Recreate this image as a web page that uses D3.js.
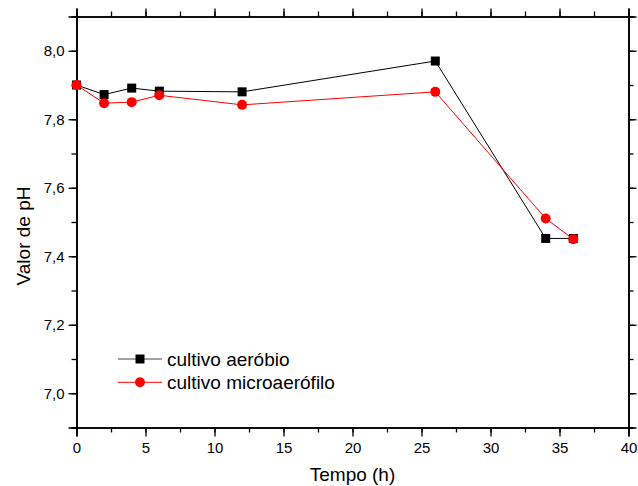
<!DOCTYPE html>
<html>
<head>
<meta charset="utf-8">
<script src="https://cdn.jsdelivr.net/npm/d3@7"></script>
<style>
  body { margin: 0; background: #fff; }
  text { font-family: "Liberation Sans", Arial, sans-serif; fill: #000; }
</style>
</head>
<body>
<script>
// data
const tempo = [0, 2, 4, 6, 12, 26, 34, 36];
const aerobio = [7.90, 7.872, 7.891, 7.882, 7.88, 7.97, 7.452, 7.452];
const microaerofilo = [7.90, 7.847, 7.85, 7.87, 7.842, 7.88, 7.51, 7.45];
const seriesNames = ['cultivo aeróbio', 'cultivo microaerófilo'];
const xTicks = [0, 5, 10, 15, 20, 25, 30, 35, 40];
const yTicks = [7.0, 7.2, 7.4, 7.6, 7.8, 8.0];

const width = 638, height = 486;
const margin = { top: 16.5, right: 9.5, bottom: 58.5, left: 76.5 };
const font = '"Liberation Sans", Arial, sans-serif';

const svg = d3.select('body').append('svg')
  .attr('width', width)
  .attr('height', height);

const x = d3.scaleLinear().domain([0, 40]).range([margin.left, width - margin.right]);
const y = d3.scaleLinear().domain([6.9, 8.1]).range([height - margin.bottom, margin.top]);

const fmt = d => d3.format('.1f')(d).replace('.', ',');
const minorX = d3.range(0, 40.01, 2.5);
const minorY = d3.range(6.9, 8.101, 0.1);

const axisStyle = g => g.call(s => s.select('.domain').attr('stroke-width', 1.6))
  .call(s => s.selectAll('.tick line').attr('stroke-width', 1.3));

// minor ticks
svg.append('g').attr('transform', `translate(0,${y.range()[0]})`)
  .call(d3.axisBottom(x).tickValues(minorX).tickSize(5).tickFormat(''))
  .call(axisStyle);
svg.append('g').attr('transform', `translate(0,${y.range()[1]})`)
  .call(d3.axisTop(x).tickValues(minorX).tickSize(5).tickFormat(''))
  .call(axisStyle);
svg.append('g').attr('transform', `translate(${x.range()[0]},0)`)
  .call(d3.axisLeft(y).tickValues(minorY).tickSize(5).tickFormat(''))
  .call(axisStyle);
svg.append('g').attr('transform', `translate(${x.range()[1]},0)`)
  .call(d3.axisRight(y).tickValues(minorY).tickSize(5).tickFormat(''))
  .call(axisStyle);

// major ticks
svg.append('g').attr('transform', `translate(0,${y.range()[0]})`)
  .call(d3.axisBottom(x).tickValues(xTicks).tickSize(9).tickPadding(6).tickFormat(d3.format('d')))
  .call(axisStyle)
  .call(g => g.selectAll('text').attr('font-size', 15).attr('font-family', font));
svg.append('g').attr('transform', `translate(${x.range()[0]},0)`)
  .call(d3.axisLeft(y).tickValues(yTicks).tickSize(8).tickPadding(4).tickFormat(fmt))
  .call(axisStyle)
  .call(g => g.selectAll('text').attr('font-size', 15).attr('font-family', font));
svg.append('g').attr('transform', `translate(0,${y.range()[1]})`)
  .call(d3.axisTop(x).tickValues(xTicks).tickSize(8).tickFormat(''))
  .call(axisStyle);
svg.append('g').attr('transform', `translate(${x.range()[1]},0)`)
  .call(d3.axisRight(y).tickValues(yTicks).tickSize(8).tickFormat(''))
  .call(axisStyle);

// axis titles
svg.append('text')
  .attr('x', (x.range()[0] + x.range()[1]) / 2)
  .attr('y', 481)
  .attr('text-anchor', 'middle')
  .attr('font-size', 19)
  .text('Tempo (h)');
svg.append('text')
  .attr('transform', 'translate(30,236) rotate(-90)')
  .attr('text-anchor', 'middle')
  .attr('font-size', 19)
  .text('Valor de pH');

const line = d3.line().x((d, i) => x(tempo[i])).y(d => y(d));

// aerobic series (black squares)
svg.append('path').datum(aerobio)
  .attr('fill', 'none').attr('stroke', '#000').attr('stroke-width', 1)
  .attr('d', line);
svg.append('g').selectAll('rect')
  .data(aerobio)
  .join('rect')
  .attr('x', (d, i) => x(tempo[i]) - 4.5)
  .attr('y', d => y(d) - 4.5)
  .attr('width', 9).attr('height', 9)
  .attr('fill', '#000');

// microaerophilic series (red circles)
svg.append('path').datum(microaerofilo)
  .attr('fill', 'none').attr('stroke', '#ff0000').attr('stroke-width', 1)
  .attr('d', line);
svg.append('g').selectAll('circle')
  .data(microaerofilo)
  .join('circle')
  .attr('cx', (d, i) => x(tempo[i]))
  .attr('cy', d => y(d))
  .attr('r', 5)
  .attr('fill', '#ff0000');

// legend
const legend = svg.append('g').attr('transform', 'translate(118,359)');
seriesNames.forEach((name, i) => {
  const g = legend.append('g').attr('transform', `translate(0,${i * 23.3})`);
  g.append('line').attr('x1', 0).attr('x2', 44)
    .attr('stroke', i === 0 ? '#444' : '#ff0000').attr('stroke-width', 1);
  if (i === 0) {
    g.append('rect').attr('x', 17.5).attr('y', -4.5).attr('width', 9).attr('height', 9).attr('fill', '#000');
  } else {
    g.append('circle').attr('cx', 22).attr('cy', 0).attr('r', 5).attr('fill', '#ff0000');
  }
  g.append('text').attr('x', 49).attr('y', 6.5).attr('font-size', 19).text(name);
});
</script>
</body>
</html>
